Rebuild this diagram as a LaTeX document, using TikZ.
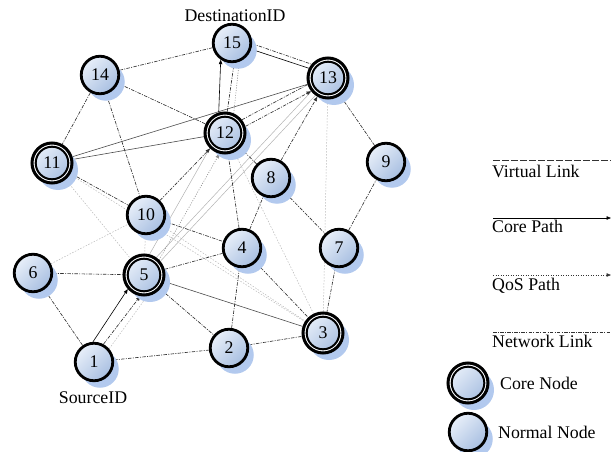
\documentclass[tikz,border=0pt]{standalone}
\usepackage{fontspec}
\setmainfont{Liberation Serif}
\usetikzlibrary{arrows.meta,shadows,backgrounds}
\definecolor{nodetop}{RGB}{232,239,249}
\definecolor{nodebot}{RGB}{168,191,225}
\definecolor{shadowblue}{RGB}{178,201,238}

\begin{document}
\begin{tikzpicture}[x=1pt,y=-1pt,
  every node/.style={font=\fontsize{17.8}{18}\selectfont},
  netnode/.style={circle, draw=black, line width=2.8pt, minimum size=37.5pt, inner sep=0pt,
    top color=nodetop, bottom color=nodebot, shading angle=45,
    drop shadow={shadow xshift=6pt, shadow yshift=-7pt, fill=shadowblue, opacity=1}},
  normalnode/.style={netnode},
  corenode/.style={netnode, minimum size=40pt, line width=3pt,
    path picture={
      \draw[white, line width=1.2pt] (path picture bounding box.center) circle[radius=17.9pt];
      \draw[black, line width=2pt] (path picture bounding box.center) circle[radius=16.3pt];}},
  label text/.style={inner sep=0pt},
  arrowtip/.style={-{Triangle[length=4.5pt,width=3.5pt]}},
  netlink/.style={draw=black!80, line width=0.65pt, dash pattern=on 3.5pt off 1.3pt on 1pt off 1.3pt},
  vlink/.style={draw=black!28, line width=0.5pt, dash pattern=on 1.5pt off 1.5pt},
  glink/.style={draw=black!30, line width=0.5pt},
  slink/.style={draw=black!70, line width=0.6pt},
  corepath/.style={draw=black, line width=0.6pt, arrowtip},
  qospath/.style={draw=black!45, line width=0.6pt, dash pattern=on 1pt off 1.5pt, arrowtip},
  vpath/.style={netlink, arrowtip},
  legendline/.style={line width=0.8pt}
]
\path[use as bounding box] (0,0) rectangle (613,452);

% network nodes
\node[normalnode] (n1)  at (94,362)  {1};
\node[normalnode] (n2)  at (229,348) {2};
\node[corenode]   (n3)  at (323,333) {3};
\node[normalnode] (n4)  at (242,248) {4};
\node[corenode]   (n5)  at (144,275) {5};
\node[normalnode] (n6)  at (33,273)  {6};
\node[normalnode] (n7)  at (339,248) {7};
\node[normalnode] (n8)  at (271,178) {8};
\node[normalnode] (n9)  at (386,162) {9};
\node[normalnode] (n10) at (146,215) {10};
\node[corenode]   (n11) at (52,163)  {11};
\node[corenode]   (n12) at (225,133) {12};
\node[corenode]   (n13) at (328,78)  {13};
\node[normalnode] (n14) at (100,75)  {14};
\node[normalnode] (n15) at (232,43)  {15};

\node[label text] (dest) at (235,16)  {DestinationID};
\node[label text] (src)  at (93,398)  {SourceID};

\begin{scope}[on background layer]
  % virtual links
  \draw[vlink] (n6) -- (n10);
  \draw[vlink] (n11) -- (n5);
  \draw[vlink] (n10) -- (n5);
  \draw[vlink] (n11) -- (n3);
  \draw[vlink] (n10) -- (n3);
  \draw[vlink] (n3) -- (n12);
  \draw[vlink] (n3) -- (n13);
  \draw[vlink] (n1.41) -- (n5.278);
  % light links from 5
  \draw[glink] (n5.75) -- (n12.225);
  \draw[glink] (n5.55) -- (n13.219);
  \draw[glink] (n5.40) -- (n13.234);
  % solid links
  \draw[slink] (n11) -- (n13);
  \draw[slink] (n11) -- (n12);
  \draw[slink] (n5) -- (n3);
  % network links
  \draw[netlink] (n14) -- (n15);
  \draw[netlink] (n14) -- (n11);
  \draw[netlink] (n14) -- (n10);
  \draw[netlink] (n14) -- (n12);
  \draw[netlink] (n11) -- (n10);
  \draw[netlink] (n10) -- (n4);
  \draw[netlink] (n6) -- (n5);
  \draw[netlink] (n6) -- (n1);
  \draw[netlink] (n1) -- (n2);
  \draw[netlink] (n5) -- (n4);
  \draw[netlink] (n5) -- (n2);
  \draw[netlink] (n2) -- (n4);
  \draw[netlink] (n2) -- (n3);
  \draw[netlink] (n4) -- (n3);
  \draw[netlink] (n4) -- (n8);
  \draw[netlink] (n4) -- (n12);
  \draw[netlink] (n8) -- (n12);
  \draw[netlink] (n8) -- (n7);
  \draw[netlink] (n7) -- (n9);
  \draw[netlink] (n9) -- (n13);
  \draw[netlink] (n7) -- (n3);
  \draw[netlink] (n12.38) -- (n13.198);
  \draw[netlink] (n15.-2) -- (n13.140);
  % dashed paths
  \draw[vpath] (n1.62) -- (n5.260);
  \draw[vpath] (n12.84) -- (n15.276);
  \draw[vpath] (n10) -- (n12);
  \draw[vpath] (n8) -- (n13);
  \draw[vpath] (n12.18) -- (n13.218);
  % core paths
  \draw[corepath] (n1.93) -- (n5.221);
  \draw[corepath] (n12.107) -- (n15.236);
  \draw[corepath] (n13.153) -- (n15.-18);
  % QoS paths
  \draw[qospath] (n12.66) -- (n15.291);
  \draw[qospath] (n5.45) -- (n12.255);
\end{scope}

% legend
\coordinate (vla) at (493,160); \coordinate (vlb) at (611,160);
\coordinate (cpa) at (493,218); \coordinate (cpb) at (611,218);
\coordinate (qpa) at (493,275); \coordinate (qpb) at (611,275);
\coordinate (nla) at (493,332); \coordinate (nlb) at (611,332);
\draw[legendline, draw=black!80, dash pattern=on 7pt off 2pt] (vla) -- (vlb);
\draw[corepath] (cpa) -- (cpb);
\draw[qospath, draw=black!80] (qpa) -- (qpb);
\draw[netlink, line width=0.8pt] (nla) -- (nlb);
\node[label text, anchor=base west] (lvl) at (492,177) {Virtual Link};
\node[label text, anchor=base west] (lcp) at (492,232) {Core Path};
\node[label text, anchor=base west] (lqp) at (492,290) {QoS Path};
\node[label text, anchor=base west] (lnl) at (492,347) {Network Link};
\node[corenode] (lcore) at (468,383) {};
\node[normalnode] (lnorm) at (468,432) {};
\node[label text, anchor=base west] (lcn) at (500,389) {Core Node};
\node[label text, anchor=base west] (lnn) at (498,438) {Normal Node};
\end{tikzpicture}
\end{document}
